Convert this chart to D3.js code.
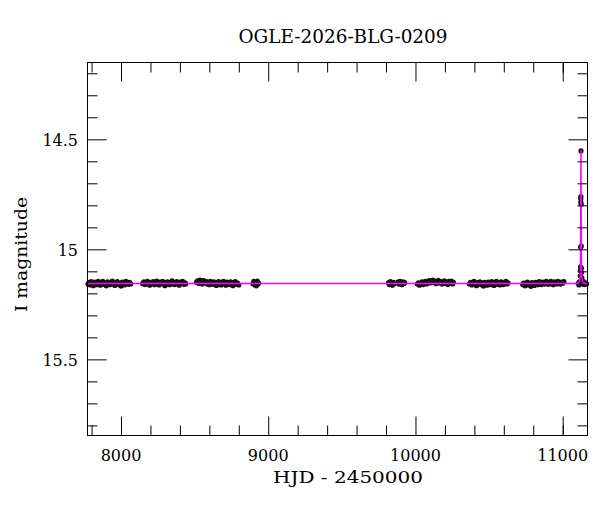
<!DOCTYPE html>
<html>
<head>
<meta charset="utf-8">
<script src="https://cdn.jsdelivr.net/npm/d3@7"></script>
<style>
  body { margin: 0; background: #fff; }
  text { font-family: "DejaVu Serif", serif; fill: #000; }
</style>
</head>
<body>
<div id="chart"></div>
<script>
// photometry, one array per observing season: [HJD - 2450000, I mag]
const season1 = [[7776,15.158],[7784,15.150],[7791,15.162],[7798,15.147],[7806,15.156],[7813,15.165],[7821,15.149],[7829,15.153],[7837,15.161],[7845,15.145],[7853,15.157],[7860,15.163],[7868,15.151],[7876,15.146],[7884,15.159],[7892,15.154],[7900,15.166],[7909,15.148],[7917,15.155],[7925,15.161],[7933,15.150],[7941,15.144],[7950,15.158],[7958,15.164],[7966,15.152],[7975,15.147],[7983,15.160],[7991,15.155],[8000,15.167],[8008,15.149],[8016,15.156],[8024,15.162],[8033,15.146],[8041,15.153],[8050,15.159],[8058,15.150],[8066,15.157]];
const season2 = [[8147,15.156],[8155,15.148],[8163,15.160],[8171,15.151],[8179,15.145],[8187,15.158],[8195,15.163],[8203,15.150],[8211,15.155],[8219,15.147],[8227,15.161],[8235,15.153],[8243,15.144],[8251,15.157],[8259,15.162],[8267,15.149],[8275,15.154],[8283,15.146],[8291,15.159],[8299,15.165],[8307,15.151],[8315,15.148],[8323,15.157],[8331,15.161],[8339,15.150],[8347,15.143],[8355,15.156],[8363,15.160],[8371,15.152],[8379,15.147],[8387,15.158],[8395,15.163],[8403,15.149],[8411,15.154],[8419,15.145],[8427,15.159],[8435,15.152],[8440,15.157]];
const season3 = [[8512,15.150],[8520,15.143],[8528,15.155],[8536,15.140],[8544,15.147],[8552,15.158],[8560,15.142],[8568,15.151],[8576,15.145],[8584,15.157],[8592,15.149],[8600,15.161],[8608,15.146],[8616,15.153],[8624,15.159],[8632,15.148],[8640,15.155],[8648,15.164],[8656,15.150],[8664,15.147],[8672,15.158],[8680,15.162],[8688,15.151],[8696,15.146],[8704,15.157],[8712,15.163],[8720,15.149],[8728,15.155],[8736,15.160],[8744,15.148],[8752,15.156],[8760,15.165],[8768,15.151],[8776,15.147],[8784,15.159],[8792,15.154],[8800,15.162]];
const season4 = [[8896,15.156],[8902,15.146],[8908,15.162],[8914,15.151],[8920,15.166],[8926,15.144],[8931,15.158],[8935,15.153]];
const season5 = [[9816,15.152],[9822,15.160],[9829,15.147],[9836,15.157],[9843,15.163],[9850,15.150],[9857,15.156],[9880,15.149],[9887,15.158],[9894,15.145],[9901,15.154],[9908,15.161],[9915,15.148],[9922,15.155],[9927,15.151]];
const season6 = [[10012,15.158],[10020,15.152],[10028,15.163],[10036,15.155],[10044,15.148],[10052,15.160],[10060,15.151],[10068,15.145],[10076,15.157],[10084,15.149],[10092,15.142],[10100,15.153],[10108,15.146],[10116,15.140],[10124,15.151],[10132,15.144],[10140,15.156],[10148,15.148],[10156,15.141],[10164,15.153],[10172,15.147],[10180,15.158],[10188,15.150],[10196,15.143],[10204,15.155],[10212,15.149],[10220,15.160],[10228,15.146],[10236,15.152],[10244,15.144],[10252,15.157],[10258,15.150]];
const season7 = [[10366,15.157],[10374,15.150],[10382,15.162],[10390,15.153],[10398,15.146],[10406,15.159],[10414,15.165],[10422,15.151],[10430,15.156],[10438,15.148],[10446,15.161],[10454,15.154],[10462,15.167],[10470,15.150],[10478,15.157],[10486,15.163],[10494,15.149],[10502,15.155],[10510,15.161],[10518,15.147],[10526,15.158],[10534,15.164],[10542,15.152],[10550,15.146],[10558,15.159],[10566,15.153],[10574,15.162],[10582,15.148],[10590,15.156],[10598,15.160],[10606,15.150],[10614,15.145],[10622,15.157],[10629,15.152]];
const season8 = [[10728,15.160],[10736,15.153],[10744,15.166],[10752,15.157],[10760,15.149],[10768,15.162],[10776,15.155],[10784,15.168],[10792,15.151],[10800,15.158],[10808,15.164],[10816,15.150],[10824,15.156],[10832,15.161],[10840,15.147],[10848,15.155],[10856,15.160],[10864,15.149],[10872,15.154],[10880,15.158],[10888,15.146],[10896,15.152],[10904,15.159],[10912,15.150],[10920,15.145],[10928,15.156],[10936,15.161],[10944,15.148],[10952,15.153],[10960,15.157],[10968,15.146],[10976,15.151],[10984,15.158],[10992,15.149],[11000,15.154],[11008,15.147]];
const season9 = [[11106,15.155],[11110,15.162],[11114,15.148],[11117,15.158],[11119,15.120],[11120,15.095],[11121,15.080],[11122,14.990],[11122.5,14.770],[11123,14.785],[11123.5,14.760],[11124,14.553],[11125,14.795],[11126,14.985],[11127,15.085],[11128,15.105],[11130,15.130],[11133,15.150],[11137,15.158],[11142,15.147],[11148,15.160],[11155,15.152],[11162,15.157]];

// model curve
const modelCurve = [[7772,15.155],[11100,15.155],[11110,15.150],[11116,15.140],[11119,15.120],[11121,15.050],[11122.5,14.850],[11124,14.550],[11125.5,14.850],[11127,15.050],[11129,15.120],[11132,15.140],[11138,15.150],[11148,15.155],[11169,15.155]];

const xDomain = [7772.5, 11168.4];
const yDomain = [14.151, 15.846];
const xMajor = [8000, 9000, 10000, 11000];
const xMinor = [7800, 8200, 8400, 8600, 8800, 9200, 9400, 9600, 9800, 10200, 10400, 10600, 10800, 11000];
const yMajor = [14.5, 15, 15.5];
const yMinor = [14.2, 14.3, 14.4, 14.6, 14.7, 14.8, 14.9, 15.1, 15.2, 15.3, 15.4, 15.6, 15.7, 15.8];

const width = 600, height = 512;
const margin = { top: 62.5, right: 12.5, bottom: 76.5, left: 87.5 };

const svg = d3.select("#chart").append("svg")
    .attr("width", width)
    .attr("height", height);

const x = d3.scaleLinear().domain(xDomain).range([margin.left, width - margin.right]);
const y = d3.scaleLinear().domain(yDomain).range([margin.top, height - margin.bottom]);

const allPoints = [].concat(season1, season2, season3, season4, season5, season6, season7, season8, season9);

// data points
svg.append("g")
    .selectAll("circle")
    .data(allPoints)
    .enter()
    .append("circle")
    .attr("cx", d => x(d[0]))
    .attr("cy", d => y(d[1]))
    .attr("r", 2.6)
    .attr("fill", "#141014");

// model line on top
svg.append("path")
    .datum(modelCurve)
    .attr("fill", "none")
    .attr("stroke", "#ff00ff")
    .attr("stroke-width", 1.5)
    .attr("d", d3.line().x(d => x(d[0])).y(d => y(d[1])));

// axes: ticks pointing inwards on all four sides
function addAxis(axisFn, scale, values, size, transform) {
    svg.append("g")
        .attr("transform", transform)
        .call(axisFn(scale).tickValues(values).tickSize(size).tickFormat(""))
        .call(g => g.select(".domain").remove())
        .call(g => g.selectAll("line").attr("stroke", "#000"));
}

const bottomY = height - margin.bottom, rightX = width - margin.right;
addAxis(d3.axisTop, x, xMajor, 19, `translate(0,${bottomY})`);
addAxis(d3.axisTop, x, xMinor, 10, `translate(0,${bottomY})`);
addAxis(d3.axisBottom, x, xMajor, 19, `translate(0,${margin.top})`);
addAxis(d3.axisBottom, x, xMinor, 10, `translate(0,${margin.top})`);
addAxis(d3.axisRight, y, yMajor, 19, `translate(${margin.left},0)`);
addAxis(d3.axisRight, y, yMinor, 10, `translate(${margin.left},0)`);
addAxis(d3.axisLeft, y, yMajor, 19, `translate(${rightX},0)`);
addAxis(d3.axisLeft, y, yMinor, 10, `translate(${rightX},0)`);

// frame
svg.append("rect")
    .attr("x", margin.left)
    .attr("y", margin.top)
    .attr("width", rightX - margin.left)
    .attr("height", bottomY - margin.top)
    .attr("fill", "none")
    .attr("stroke", "#000")
    .attr("stroke-width", 1);

// tick labels
svg.append("g")
    .selectAll("text")
    .data(xMajor)
    .enter()
    .append("text")
    .attr("x", d => x(d))
    .attr("y", 460.5)
    .attr("text-anchor", "middle")
    .style("font-size", "16px")
    .text(d => d);

svg.append("g")
    .selectAll("text")
    .data(yMajor)
    .enter()
    .append("text")
    .attr("x", 78)
    .attr("y", d => y(d) + 6.3)
    .attr("text-anchor", "end")
    .style("font-size", "16px")
    .text(d => d);

// titles
svg.append("text")
    .attr("x", 343)
    .attr("y", 42.7)
    .attr("text-anchor", "middle")
    .style("font-size", "18px")
    .attr("textLength", 209)
    .attr("lengthAdjust", "spacingAndGlyphs")
    .text("OGLE-2026-BLG-0209");

svg.append("text")
    .attr("x", 348)
    .attr("y", 482.5)
    .attr("text-anchor", "middle")
    .style("font-size", "17px")
    .attr("textLength", 150)
    .attr("lengthAdjust", "spacingAndGlyphs")
    .text("HJD - 2450000");

svg.append("text")
    .attr("transform", "translate(27,254.5) rotate(-90)")
    .attr("text-anchor", "middle")
    .style("font-size", "17.5px")
    .attr("textLength", 115)
    .attr("lengthAdjust", "spacingAndGlyphs")
    .text("I magnitude");
</script>
</body>
</html>
